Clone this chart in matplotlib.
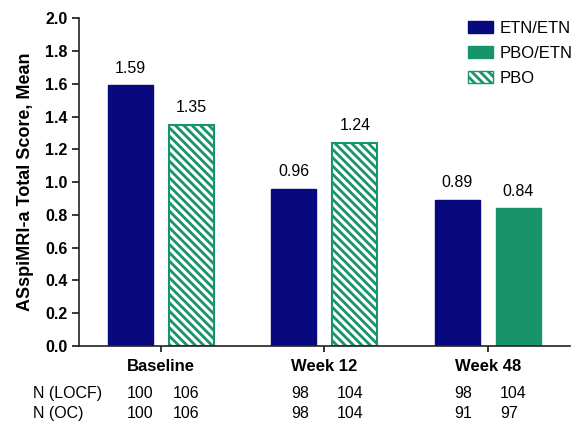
import matplotlib
matplotlib.use("Agg")
import matplotlib.pyplot as plt
import matplotlib.transforms as mtransforms
from matplotlib.patches import Patch
import numpy as np

plt.rcParams['font.family'] = ['Liberation Sans', 'DejaVu Sans']
plt.rcParams['hatch.linewidth'] = 2.0

categories = ["Baseline", "Week 12", "Week 48"]
etn_etn = [1.59, 0.96, 0.89]
pbo_vals = [1.35, 1.24, 0.84]
pbo_is_hatched = [True, True, False]   # PBO at baseline/week 12, PBO/ETN at week 48
n_locf = [(100, 106), (98, 104), (98, 104)]
n_oc = [(100, 106), (98, 104), (91, 97)]

NAVY = "#08087f"
GREEN = "#18946a"
HATCH = "\\\\\\\\"

fig = plt.figure(figsize=(5.74, 4.23), dpi=100)
ax = fig.add_axes([0.1376, 0.182, 0.855, 0.775])

x = np.arange(len(categories))
w = 0.275
off = 0.187

ax.bar(x - off, etn_etn, w, color=NAVY, edgecolor=NAVY, linewidth=1)
for xi, v, h in zip(x, pbo_vals, pbo_is_hatched):
    if h:
        ax.bar(xi + off, v, w, color="white", edgecolor=GREEN, hatch=HATCH, linewidth=1.5)
    else:
        ax.bar(xi + off, v, w, color=GREEN, edgecolor=GREEN, linewidth=1)

for xi, v in zip(x, etn_etn):
    ax.annotate("%.2f" % v, (xi - off, v), xytext=(0, 7), textcoords="offset points",
                ha="center", va="bottom", fontsize=11.5)
for xi, v in zip(x, pbo_vals):
    ax.annotate("%.2f" % v, (xi + off, v), xytext=(0, 7), textcoords="offset points",
                ha="center", va="bottom", fontsize=11.5)

ax.set_xlim(-0.5, 2.5)
ax.set_ylim(0, 2.0)
ax.set_yticks(np.arange(0, 2.01, 0.2))
ax.set_yticklabels(["%.1f" % t for t in np.arange(0, 2.01, 0.2)], fontweight="bold", fontsize=11.5)
ax.set_xticks(x)
ax.set_xticklabels(categories, fontweight="bold", fontsize=12)
ax.tick_params(axis="y", direction="out", length=5, width=1.1, pad=3)
ax.tick_params(axis="x", direction="out", length=4, width=1.1, pad=5)
for s in ["top", "right"]:
    ax.spines[s].set_visible(False)
for s in ["left", "bottom"]:
    ax.spines[s].set_linewidth(1.2)
    ax.spines[s].set_color("#222222")
ax.set_ylabel("ASspiMRI-a Total Score, Mean", fontweight="bold", fontsize=13, labelpad=8)

# N table under the axis
trans = mtransforms.blended_transform_factory(ax.transData, fig.transFigure)
fig.text(33 / 574, 1 - 393 / 423, "N (LOCF)", fontsize=11.5, va="center", ha="left")
fig.text(33 / 574, 1 - 413 / 423, "N (OC)", fontsize=11.5, va="center", ha="left")
for xi, (a, b) in zip(x, n_locf):
    ax.text(xi - 0.205, 1 - 393 / 423, str(a), transform=trans, fontsize=11.5, va="center", ha="left")
    ax.text(xi + 0.075, 1 - 393 / 423, str(b), transform=trans, fontsize=11.5, va="center", ha="left")
for xi, (a, b) in zip(x, n_oc):
    ax.text(xi - 0.205, 1 - 413 / 423, str(a), transform=trans, fontsize=11.5, va="center", ha="left")
    ax.text(xi + 0.075, 1 - 413 / 423, str(b), transform=trans, fontsize=11.5, va="center", ha="left")

# legend
handles = [Patch(facecolor=NAVY, edgecolor=NAVY, label="ETN/ETN"),
           Patch(facecolor=GREEN, edgecolor=GREEN, label="PBO/ETN"),
           Patch(facecolor="white", edgecolor=GREEN, hatch=HATCH, label="PBO")]
fig.legend(handles=handles, loc="upper left", bbox_to_anchor=(468 / 574, 1 - 21 / 423),
           frameon=False, fontsize=12, handlelength=1.5, handleheight=0.75,
           handletextpad=0.4, labelspacing=0.6, borderpad=0, borderaxespad=0)

fig.savefig("out.png", dpi=100)
